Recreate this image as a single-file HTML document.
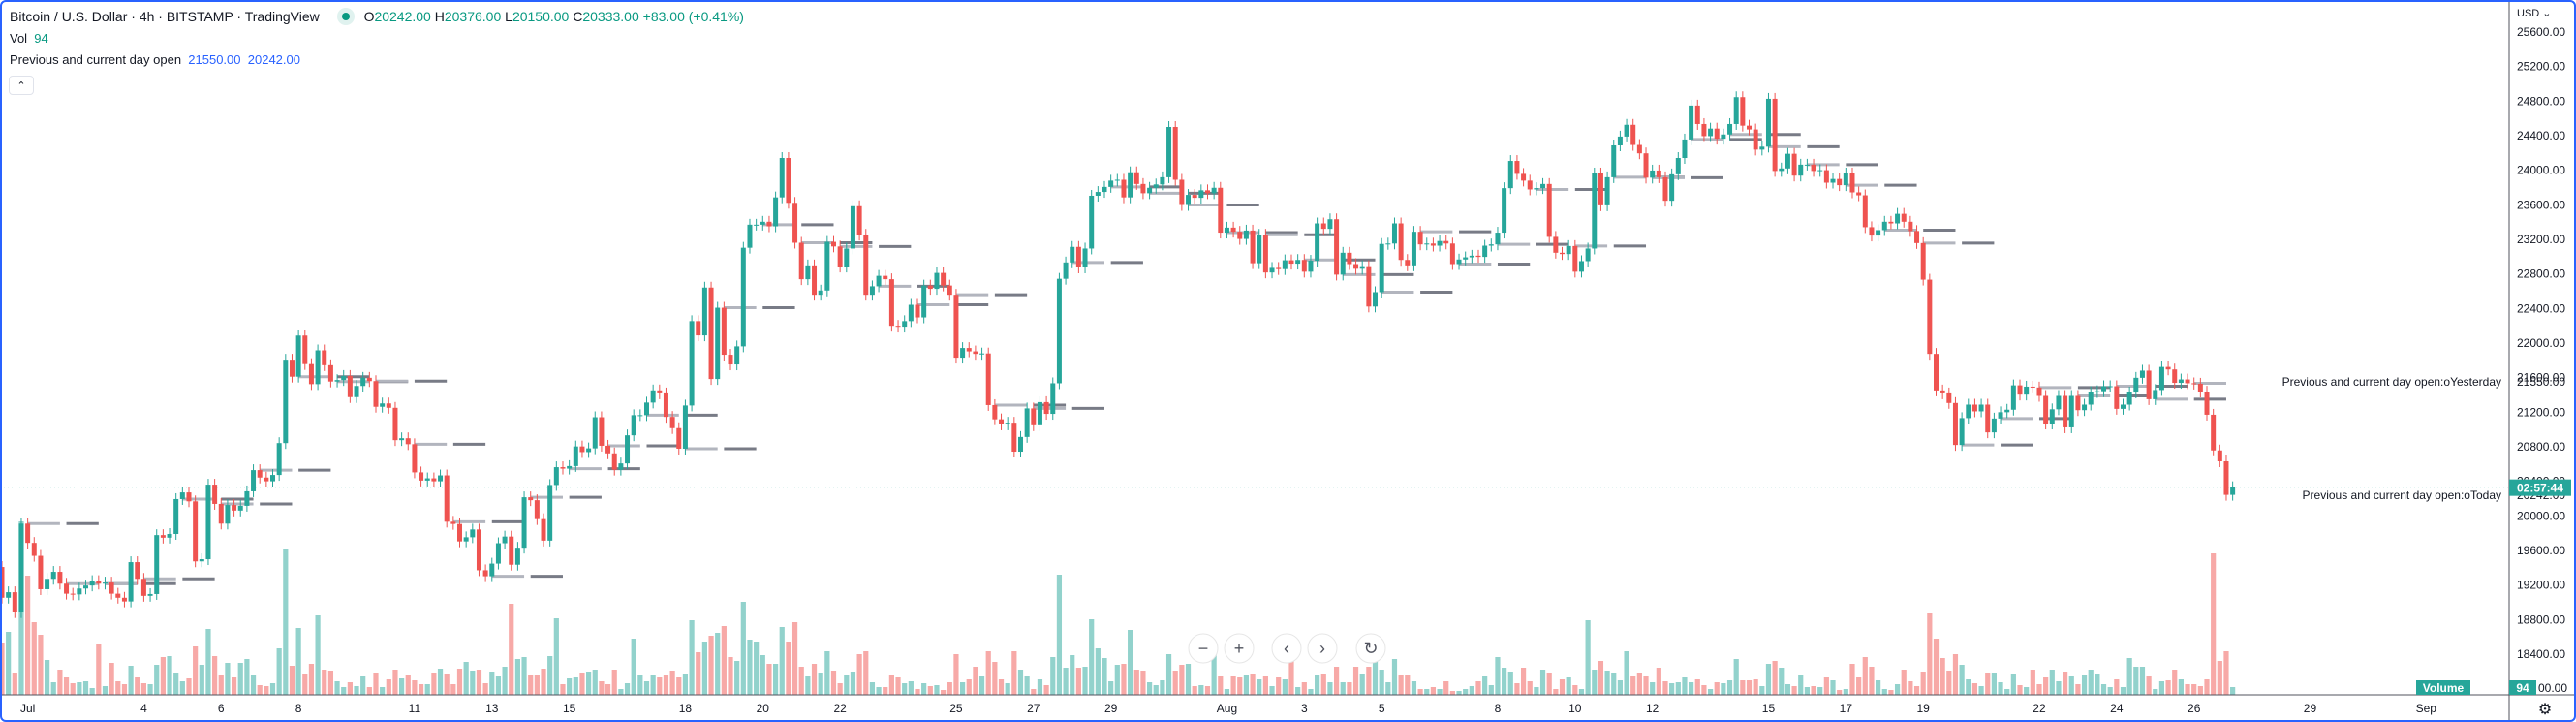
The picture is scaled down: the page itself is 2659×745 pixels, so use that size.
<!DOCTYPE html>
<html><head><meta charset="utf-8">
<style>
html,body{margin:0;padding:0;background:#fff;}
body{width:2659px;height:745px;overflow:hidden;position:relative;font-family:"Liberation Sans",sans-serif;color:#131722;}
#frame{position:absolute;left:0;top:0;width:2655px;height:741px;border:2px solid #2962ff;border-radius:6px;pointer-events:none;}
.hdr{position:absolute;left:10px;font-size:14px;white-space:nowrap;}
.t{color:#089981;}
.b{color:#2962ff;}
svg text{font-family:"Liberation Sans",sans-serif;}
</style></head>
<body>
<svg id="chart" width="2659" height="745" style="position:absolute;left:0;top:0"></svg>
<div class="hdr" style="top:8px">Bitcoin / U.S. Dollar · 4h · BITSTAMP · TradingView
 <span style="display:inline-block;width:18px;height:18px;border-radius:9px;background:#e0f2ef;vertical-align:-4px;margin:0 6px 0 14px;position:relative"><span style="position:absolute;left:5px;top:5px;width:8px;height:8px;border-radius:4px;background:#089981"></span></span>
 <span>O<span class="t">20242.00</span> H<span class="t">20376.00</span> L<span class="t">20150.00</span> C<span class="t">20333.00</span> <span class="t">+83.00 (+0.41%)</span></span></div>
<div class="hdr" style="top:32px;font-size:13px">Vol&nbsp; <span class="t">94</span></div>
<div class="hdr" style="top:54px;font-size:13px">Previous and current day open&nbsp; <span class="b">21550.00</span>&nbsp; <span class="b">20242.00</span></div>
<div style="position:absolute;left:9px;top:78px;width:24px;height:18px;border:1px solid #e0e3eb;border-radius:4px;font-size:11px;text-align:center;line-height:20px">&#8963;</div>
<div id="frame"></div>
<script>
const firstOpen = 19409;
const closes = [
19053,19117,18886,19911,19688,19538,19152,19272,19353,19216,
19100,19092,19160,19195,19246,19216,19229,19100,19053,19010,
19465,19272,19075,19096,19778,19748,19791,20195,20272,20169,
19474,19499,20362,20139,19911,20126,20062,20117,20285,20530,
20444,20401,20474,20843,21808,21611,22087,21757,21525,21916,
21744,21555,21572,21620,21375,21504,21598,21560,21263,21302,
21251,20877,20899,20830,20504,20409,20435,20401,20469,19933,
19907,19705,19753,19843,19371,19302,19448,19684,19761,19435,
19632,20216,20182,19963,19714,20358,20564,20547,20577,20804,
20739,20782,21142,20812,20724,20535,20608,20933,21166,21166,
21312,21453,21418,21146,21016,20778,21278,22254,22089,22642,
21584,22409,21865,21753,21962,23103,23370,23370,23404,23351,
23686,24142,23623,23161,22739,22899,22559,22608,23171,23118,
22885,23094,23584,23254,22559,22657,22778,22739,22200,22190,
22254,22443,22297,22666,22627,22812,22666,22559,21831,21943,
21904,21875,21880,21283,21118,21059,21079,20744,20914,21244,
21049,21317,21181,21535,22744,22933,23113,22875,23094,23705,
23749,23807,23880,23890,23686,23977,23841,23734,23797,
23836,23919,24501,23890,23598,23715,23681,23768,23734,23797,
23278,23336,23288,23205,23302,22924,23254,22817,22870,22856,
22958,22919,22962,22826,22953,23385,23322,23433,22792,23045,
22914,22860,22890,22423,22589,23147,23152,23385,22962,22899,
23288,23142,23152,23127,23181,23152,22914,22967,22992,23011,
22997,23127,23142,23278,23793,24108,23958,23880,23778,23793,
23841,23229,23045,23030,23123,22826,22948,23094,23963,23594,
23919,24288,24390,24526,24293,24196,23914,23997,23919,23647,
23953,24142,24356,24749,24535,24395,24482,24365,24414,
24535,24846,24516,24472,24239,24273,24827,23992,24021,24191,
23938,24065,24065,23992,24001,23856,23899,23827,23963,23744,
23710,23341,23244,23307,23404,23385,23496,23404,23297,23157,
22734,21875,21452,21418,21307,20821,21132,21288,21210,21288,
20967,21127,21200,21229,21511,21404,21496,21486,21389,21069,
21234,21389,21025,21389,21224,21288,21433,21443,21501,21501,
21239,21288,21428,21598,21681,21351,21457,21724,21695,21540,
21579,21535,21530,21438,21171,20758,20632,20244,20333];
const volumes = [
54,65,23,179,123,75,62,36,13,26,18,12,13,14,7,52,9,33,14,11,30,18,12,11,31,39,40,23,14,17,
50,31,68,40,21,33,18,33,37,21,10,9,12,48,151,30,69,22,32,82,26,25,14,8,13,9,19,8,23,8,
16,26,17,21,15,11,11,23,27,22,11,27,34,25,26,12,24,19,29,94,37,39,21,20,27,40,79,11,17,18,
23,24,26,14,11,26,6,12,58,21,14,21,18,21,25,18,22,77,44,55,61,64,71,39,35,96,57,55,41,32,
32,70,55,75,29,19,32,23,45,25,12,21,24,42,45,13,8,8,21,18,12,14,6,12,9,10,5,13,42,13,
16,29,19,45,34,16,12,45,26,19,6,16,10,39,124,28,41,28,29,78,48,38,14,31,32,67,26,25,13,
10,15,42,25,31,32,9,10,9,48,19,6,19,18,21,22,16,19,9,18,16,41,8,13,6,21,22,13,29,13,
13,29,22,29,42,26,13,37,21,21,14,6,6,8,6,14,4,4,6,9,14,19,10,39,28,24,12,28,14,8,
26,23,6,16,18,10,6,77,26,35,25,23,15,45,19,23,19,13,28,14,12,13,18,13,16,10,6,13,12,
15,37,15,15,16,9,32,35,28,11,9,21,8,9,8,18,15,5,6,32,18,39,29,15,6,5,11,26,14,9,
24,84,58,38,25,42,31,16,12,9,23,23,13,6,22,10,8,26,11,18,26,14,24,19,11,21,26,22,11,8,
16,8,38,29,29,19,6,14,15,26,16,11,11,9,16,146,35,45,8];
const priceTicks = [25600,25200,24800,24400,24000,23600,23200,22800,22400,22000,21600,21200,20800,20400,20000,19600,19200,18800,18400];
const timeLabels = ["Jul","4","6","8","11","13","15","18","20","22","25","27","29","Aug","3","5","8","10","12","15","17","19","22","24","26","29","Sep"];
const timeDays = [0,3,5,7,10,12,14,17,19,21,24,26,28,31,33,35,38,40,42,45,47,49,52,54,56,59,62];
const prevDayOpen = 21550, curDayOpen = 20242, lastPrice = 20333;

const NS="http://www.w3.org/2000/svg";
const svg=document.getElementById('chart');
const STEP=6.655, X0=2, FIRST_DAY_BAR=4, BARS_PER_DAY=6;
const xOf=i=>X0+STEP*i;
const yOf=p=>33+(25600-p)*0.08917;
const VOL_BASE=717;
const vOf=v=>VOL_BASE-v;
const dayX=d=>xOf(FIRST_DAY_BAR+d*BARS_PER_DAY);
function el(tag,attrs,parent){const e=document.createElementNS(NS,tag);for(const k in attrs)e.setAttribute(k,attrs[k]);(parent||svg).appendChild(e);return e;}

const opens=closes.map((c,i)=>i===0?firstOpen:closes[i-1]);
const lastX=xOf(closes.length-1);

const vg=el('g',{});


volumes.forEach((v,i)=>{
  const up=closes[i]>=opens[i];
  const r=el('rect',{x:xOf(i)-2.6,y:vOf(v),width:5.2,height:VOL_BASE-vOf(v),fill:up?'#92d2cc':'#f7a9a7'},vg);
  
  
});

const lg=el('g',{});


const nDays=Math.ceil((closes.length-FIRST_DAY_BAR)/BARS_PER_DAY);
for(let d=0; d<nDays; d++){
  const f=FIRST_DAY_BAR+d*BARS_PER_DAY;
  const o=opens[f]; const y=yOf(o);
  const ax1=xOf(f), ax2=Math.min(xOf(f+5),lastX);
  if(ax2>ax1){
    const a=el('line',{x1:ax1,x2:ax2,y1:y,y2:y,stroke:'#b2b5be','stroke-width':3},lg);
    
    
  }
  const bx1=xOf(f+6), bx2=Math.min(xOf(f+11),lastX);
  if(bx2>bx1){
    const b=el('line',{x1:bx1,x2:bx2,y1:y,y2:y,stroke:'#787b86','stroke-width':3},lg);
    
    
  }
}

const pl=el('line',{x1:0,x2:2590,y1:yOf(lastPrice),y2:yOf(lastPrice),stroke:'#26a69a','stroke-width':1,'stroke-dasharray':'1 3'});



const cg=el('g',{});


closes.forEach((c,i)=>{
  const o=opens[i]; const up=c>=o; const col=up?'#26a69a':'#ef5350';
  const yt=yOf(Math.max(o,c)), yb=yOf(Math.min(o,c));
  const w=el('line',{x1:xOf(i),x2:xOf(i),y1:yt-6,y2:yb+6,stroke:col,'stroke-width':1},cg);
  
  
  const r=el('rect',{x:xOf(i)-2.5,y:yt,width:5,height:Math.max(1,yb-yt),fill:col},cg);
  
  
});

const t1=el('text',{x:2582,y:yOf(prevDayOpen)+4,'text-anchor':'end','font-size':12,fill:'#131722'});
t1.textContent='Previous and current day open:oYesterday';


const t2=el('text',{x:2582,y:yOf(curDayOpen)+4,'text-anchor':'end','font-size':12,fill:'#131722'});
t2.textContent='Previous and current day open:oToday';



const ax=el('line',{x1:2590,x2:2590,y1:0,y2:745,stroke:'#50535e','stroke-width':1});


const tx=el('line',{x1:0,x2:2659,y1:717,y2:717,stroke:'#50535e','stroke-width':1});



const pg=el('g',{});


priceTicks.forEach(p=>{
  const t=el('text',{x:2598,y:yOf(p)+4,'font-size':12,fill:'#131722'},pg);
  t.textContent=p.toFixed(2);
  
  
});
[prevDayOpen,curDayOpen].forEach(p=>{
  const t=el('text',{x:2598,y:yOf(p)+4,'font-size':12,fill:'#131722'},pg);
  t.textContent=p.toFixed(2);
  
  
});
const lb=el('rect',{x:2590,y:yOf(lastPrice)-8,width:64,height:17,fill:'#26a69a'});


const lt=el('text',{x:2622,y:yOf(lastPrice)+5,'text-anchor':'middle','font-size':12,fill:'#fff','font-weight':'bold'});
lt.textContent='02:57:44';


const usd=el('text',{x:2598,y:17,'font-size':11,fill:'#131722'});
usd.textContent='USD ⌄';



const vb=el('rect',{x:2494,y:702,width:56,height:15,fill:'#26a69a'});


const vt=el('text',{x:2522,y:714,'text-anchor':'middle','font-size':12,'font-weight':'bold',fill:'#fff'});
vt.textContent='Volume';


const vb2=el('rect',{x:2590,y:702,width:28,height:15,fill:'#26a69a'});


const vt2=el('text',{x:2604,y:714,'text-anchor':'middle','font-size':12,'font-weight':'bold',fill:'#fff'});
vt2.textContent='94';


const v3=el('text',{x:2620,y:714,'font-size':12,fill:'#131722'});
v3.textContent='00.00';



const tg=el('g',{});


timeLabels.forEach((s,i)=>{
  const t=el('text',{x:dayX(timeDays[i]),y:735,'text-anchor':'middle','font-size':12,fill:'#131722'},tg);
  t.textContent=s;
  
  
});
const gr=el('text',{x:2627,y:737,'text-anchor':'middle','font-size':16,fill:'#131722'});
gr.textContent='⚙';



const nav=[['−',1242,'zoom-out-button'],['+',1279,'zoom-in-button'],['‹',1328,'scroll-left-button'],['›',1365,'scroll-right-button'],['↻',1415,'reset-button']];
nav.forEach(n=>{
  const g=el('g',{});
  
  
  el('circle',{cx:n[1],cy:669,r:15,fill:'#fff',stroke:'#e6e6e6','stroke-width':1},g);
  const t=el('text',{x:n[1],y:675,'text-anchor':'middle','font-size':18,fill:'#50535e'},g);
  t.textContent=n[0];
});
</script>
</body></html>
